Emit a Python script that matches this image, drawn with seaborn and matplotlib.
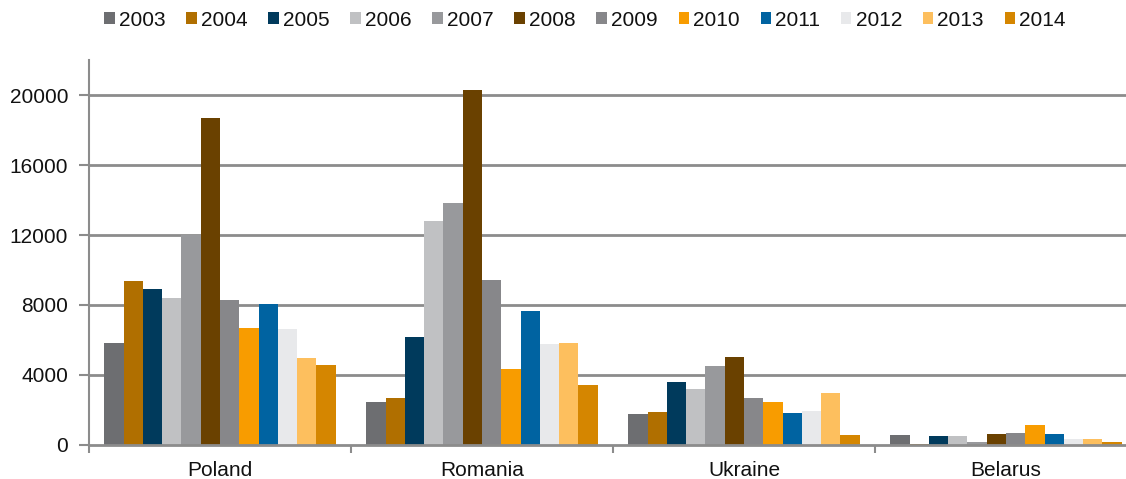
import matplotlib
matplotlib.use("Agg")
import matplotlib.pyplot as plt
import seaborn as sns
import pandas as pd

countries = ["Poland", "Romania", "Ukraine", "Belarus"]
years = ["2003", "2004", "2005", "2006", "2007", "2008",
         "2009", "2010", "2011", "2012", "2013", "2014"]

poland = [5850, 9400, 8930, 8420, 12000, 18680, 8260, 6680, 8070, 6650, 5000, 4560]
romania = [2470, 2710, 6150, 12780, 13820, 20300, 9450, 4370, 7680, 5780, 5850, 3410]
ukraine = [1780, 1890, 3620, 3180, 4530, 5030, 2680, 2430, 1820, 1970, 2980, 560]
belarus = [550, 80, 500, 500, 190, 610, 690, 1160, 650, 340, 330, 150]

colors = ["#6D6E71", "#B06F00", "#003A5C", "#C0C1C3", "#98999C", "#6A4100",
          "#87878A", "#F89C00", "#0063A1", "#E8E9EB", "#FDBF5E", "#D58600"]

yticks = [0, 4000, 8000, 12000, 16000, 20000]

rows = []
for c, vals in zip(countries, [poland, romania, ukraine, belarus]):
    for y, v in zip(years, vals):
        rows.append({"country": c, "year": y, "value": v})
df = pd.DataFrame(rows)

sns.set_style("white")
plt.rcParams["font.family"] = ["Liberation Sans", "DejaVu Sans"]

fig = plt.figure(figsize=(11.26, 4.79), dpi=100)
ax = fig.add_axes([89 / 1126, 1 - 445 / 479, (1137 - 89) / 1126, (445 - 60) / 479])

gray = "#8C8C8C"
sns.barplot(data=df, x="country", y="value", hue="year", order=countries,
            hue_order=years, palette=colors, saturation=1, width=0.883,
            gap=0, ax=ax, legend=True, zorder=3, linewidth=0, edgecolor="none")

ax.set_ylim(0, 22000)
ax.set_xlim(-0.5, 3.5)
ax.set_yticks(yticks)
ax.set_yticklabels([str(t) for t in yticks])
ax.set_xlabel("")
ax.set_ylabel("")

for t in yticks[1:]:
    ax.axhline(t, color=gray, lw=2, zorder=1)

for s in ["top", "right"]:
    ax.spines[s].set_visible(False)
for s in ["left", "bottom"]:
    ax.spines[s].set_color(gray)
    ax.spines[s].set_zorder(5)
ax.spines["bottom"].set_linewidth(2)
ax.spines["left"].set_linewidth(1.5)

ax.tick_params(axis="y", left=True, length=7, width=1.5, color=gray,
               labelsize=15, labelcolor="#111111", pad=8)
ax.tick_params(axis="x", bottom=False, labelsize=15, labelcolor="#111111", pad=8)

# category boundary ticks
ax.set_xticks([0, 1, 2, 3])
ax.set_xticks([-0.5, 0.5, 1.5, 2.5, 3.5], minor=True)
ax.tick_params(axis="x", which="minor", bottom=True, length=6, width=1.5,
               color=gray, direction="out")

handles, labels = ax.get_legend_handles_labels()
ax.get_legend().remove()
fig.legend(handles, labels, loc="center", bbox_to_anchor=(585 / 1126, 1 - 20 / 479),
           ncol=12, frameon=False, fontsize=15, handlelength=0.5,
           handleheight=0.5, handletextpad=0.2, columnspacing=1.0,
           borderpad=0, labelcolor="#111111")

fig.savefig("out.png", dpi=100)
